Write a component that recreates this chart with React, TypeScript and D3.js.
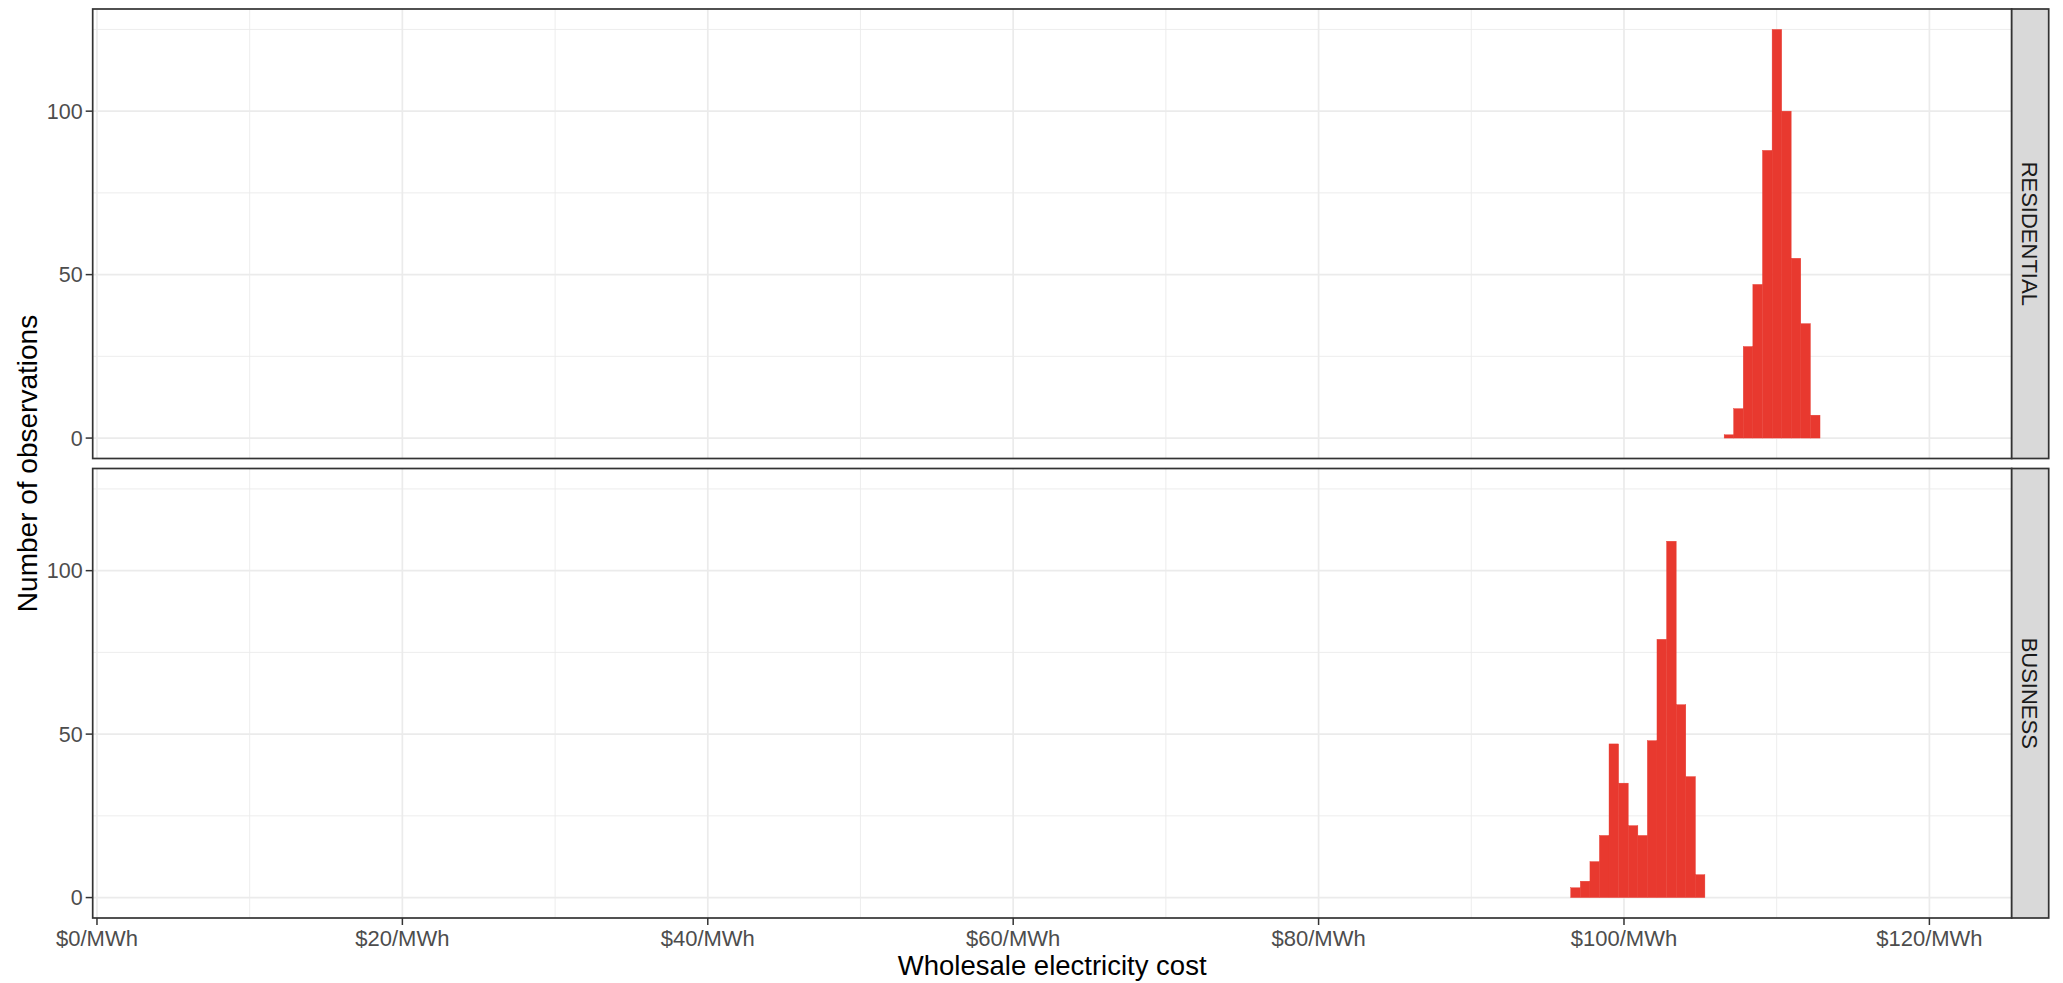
import React from 'react';
import * as d3 from 'd3';

// ---- data ----
const binWidth = 0.628;
const residentialBinStarts = [106.56, 107.18, 107.81, 108.44, 109.07, 109.7, 110.32, 110.95, 111.58, 112.21];
const residentialCounts = [1, 9, 28, 47, 88, 125, 100, 55, 35, 7];
const businessBinStarts = [96.51, 97.14, 97.77, 98.39, 99.02, 99.65, 100.28, 100.91, 101.53, 102.16, 102.79, 103.42, 104.05, 104.67];
const businessCounts = [3, 5, 11, 19, 47, 35, 22, 19, 48, 79, 109, 59, 37, 7];
const facetLabels = ['RESIDENTIAL', 'BUSINESS'];
const xTicks = [0, 20, 40, 60, 80, 100, 120];
const xMinorTicks = [10, 30, 50, 70, 90, 110];
const yTicks = [0, 50, 100];
const yMinorTicks = [25, 75, 125];
const xTitle = 'Wholesale electricity cost';
const yTitle = 'Number of observations';

const W = 2063;
const H = 983;
const panelLeft = 92.7;
const panelRight = 2011.7;
const panelTops = [9, 468.5];
const panelH = 449.5;
const stripW = 37;
const FONT = '"Liberation Sans", Arial, sans-serif';
const FILL = '#E8392F';

export default function App() {
  const x = d3.scaleLinear().domain([-0.28, 125.39]).range([panelLeft, panelRight]);
  const series = [
    { starts: residentialBinStarts, counts: residentialCounts },
    { starts: businessBinStarts, counts: businessCounts },
  ];
  const fmt = (v: number) => `$${v}/MWh`;

  return (
    <div style={{ position: 'fixed', left: 0, top: 0, width: W, height: H, background: '#fff' }}>
      <svg width={W} height={H} style={{ display: 'block' }} fontFamily={FONT}>
        <rect x={0} y={0} width={W} height={H} fill="#fff" />
        {series.map((s, i) => {
          const top = panelTops[i];
          const y = d3.scaleLinear().domain([-6.25, 131.25]).range([top + panelH, top]);
          return (
            <g key={i}>
              <rect x={panelLeft} y={top} width={panelRight - panelLeft} height={panelH} fill="#fff" />
              {yMinorTicks.map((t) => (
                <line key={'ym' + t} x1={panelLeft} x2={panelRight} y1={y(t)} y2={y(t)} stroke="#EBEBEB" strokeWidth={0.9} />
              ))}
              {xMinorTicks.map((t) => (
                <line key={'xm' + t} x1={x(t)} x2={x(t)} y1={top} y2={top + panelH} stroke="#EBEBEB" strokeWidth={0.9} />
              ))}
              {yTicks.map((t) => (
                <line key={'yM' + t} x1={panelLeft} x2={panelRight} y1={y(t)} y2={y(t)} stroke="#EBEBEB" strokeWidth={1.7} />
              ))}
              {xTicks.map((t) => (
                <line key={'xM' + t} x1={x(t)} x2={x(t)} y1={top} y2={top + panelH} stroke="#EBEBEB" strokeWidth={1.7} />
              ))}
              {s.starts.map((b, j) => (
                <rect
                  key={'b' + j}
                  x={x(b)}
                  width={x(b + binWidth) - x(b)}
                  y={y(s.counts[j])}
                  height={y(0) - y(s.counts[j])}
                  fill={FILL}
                  stroke={FILL}
                  strokeWidth={0.4}
                />
              ))}
              <rect x={panelLeft} y={top} width={panelRight - panelLeft} height={panelH} fill="none" stroke="#333333" strokeWidth={1.7} />
              {/* strip */}
              <rect x={panelRight} y={top} width={stripW} height={panelH} fill="#D9D9D9" stroke="#333333" strokeWidth={1.7} />
              <text
                transform={`translate(${panelRight + 10.5},${top + panelH / 2}) rotate(90)`}
                textAnchor="middle"
                fontSize={22}
                fill="#1A1A1A"
              >
                {facetLabels[i]}
              </text>
              {/* y axis */}
              {yTicks.map((t) => (
                <g key={'yt' + t}>
                  <line x1={panelLeft - 7} x2={panelLeft} y1={y(t)} y2={y(t)} stroke="#333333" strokeWidth={1.5} />
                  <text x={panelLeft - 10} y={y(t) + 7.5} textAnchor="end" fontSize={21.5} fill="#4D4D4D">
                    {t}
                  </text>
                </g>
              ))}
            </g>
          );
        })}
        {/* x axis */}
        {xTicks.map((t) => (
          <g key={'xt' + t}>
            <line x1={x(t)} x2={x(t)} y1={panelTops[1] + panelH} y2={panelTops[1] + panelH + 7} stroke="#333333" strokeWidth={1.5} />
            <text x={x(t)} y={946} textAnchor="middle" fontSize={22} fill="#4D4D4D">
              {fmt(t)}
            </text>
          </g>
        ))}
        <text x={(panelLeft + panelRight) / 2} y={975} textAnchor="middle" fontSize={27.5} fill="#000">
          {xTitle}
        </text>
        <text
          transform={`translate(37,${(panelTops[0] + panelTops[1] + panelH) / 2}) rotate(-90)`}
          textAnchor="middle"
          fontSize={28}
          fill="#000"
        >
          {yTitle}
        </text>
      </svg>
    </div>
  );
}
